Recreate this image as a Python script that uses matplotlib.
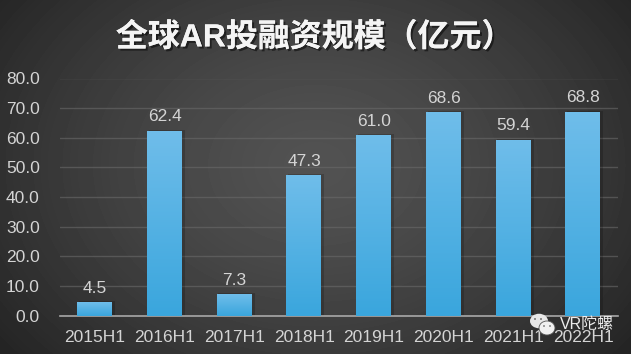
import numpy as np
import matplotlib
matplotlib.use('Agg')
import matplotlib.pyplot as plt
import matplotlib.patheffects as pe
from matplotlib.patches import Ellipse, Circle, Rectangle

plt.rcParams['font.family'] = ['Liberation Sans', 'Noto Sans CJK SC', 'DejaVu Sans']

categories = ['2015H1', '2016H1', '2017H1', '2018H1', '2019H1', '2020H1', '2021H1', '2022H1']
values = [4.5, 62.4, 7.3, 47.3, 61.0, 68.6, 59.4, 68.8]
yticks = [0, 10, 20, 30, 40, 50, 60, 70, 80]
title = '全球AR投融资规模（亿元）'
W, H = 631, 354

fig = plt.figure(figsize=(W / 100, H / 100), dpi=100)

# background, lighter in the middle
bg = fig.add_axes([0, 0, 1, 1], zorder=0)
yy, xx = np.mgrid[0:H, 0:W]
dist = np.sqrt(((xx - 315) / 400) ** 2 + ((yy - 165) / 300) ** 2)
shade = np.clip(82 - 46 * dist ** 1.4, 36, 82) / 255
bg.imshow(shade, cmap='gray', vmin=0, vmax=1, extent=(0, W, H, 0), aspect='auto')
bg.set_xlim(0, W)
bg.set_ylim(H, 0)
bg.axis('off')

ax = fig.add_axes([60 / W, 1 - 315.5 / H, 558 / W, 237 / H], zorder=1)
ax.patch.set_alpha(0)
ax.set_xlim(-0.5, 7.5)
ax.set_ylim(0, 80)
ax.set_yticks(yticks)
ax.set_yticklabels(['%.1f' % t for t in yticks])
ax.set_xticks(range(len(categories)))
ax.set_xticklabels(categories)
ax.tick_params(length=0, labelsize=12.5, labelcolor='#d4d4d4')
ax.tick_params(axis='y', pad=14.5)
ax.tick_params(axis='x', pad=10.5)
ax.grid(axis='y', color='#6a6a6a', linewidth=1, alpha=0.6)
ax.set_axisbelow(True)
for name in ['top', 'left', 'right']:
    ax.spines[name].set_visible(False)
ax.spines['bottom'].set_color('#a8a8a8')
ax.spines['bottom'].set_linewidth(1.2)

# bars with vertical gradient and a soft shadow
grad = np.linspace(0, 1, 64).reshape(-1, 1)
top_col = np.array([0x6f, 0xbd, 0xea]) / 255
bot_col = np.array([0x3a, 0xa6, 0xdd]) / 255
rgb = top_col[None, None, :] * (1 - grad[:, :, None]) + bot_col[None, None, :] * grad[:, :, None]
barw = 0.5
for i, v in enumerate(values):
    ax.add_patch(Rectangle((i - barw / 2 + 0.02, 0), barw + 0.02, v + 0.3, color='black',
                           alpha=0.18, linewidth=0, zorder=2))
    ax.imshow(rgb, extent=(i - barw / 2 - 0.005, i + barw / 2 - 0.005, 0, v), aspect='auto', zorder=3,
              interpolation='bilinear')
    ax.text(i, v + 2.1, '%.1f' % v, ha='center', va='bottom', fontsize=12.5,
            color='#d4d4d4', zorder=4)
ax.set_xlim(-0.5, 7.5)
ax.set_ylim(0, 80)

fig.text(315 / W, 1 - 38 / H, title, ha='center', va='center', fontsize=23,
         fontweight='bold', color='#f4f4f4', family=['Liberation Sans', 'Noto Sans CJK SC'],
         path_effects=[pe.withSimplePatchShadow(offset=(1.5, -1.5), shadow_rgbFace='black', alpha=0.5),
                       pe.Normal()], zorder=5)

# watermark, drawn over everything
wm = fig.add_axes([0, 0, 1, 1], zorder=3)
wm.patch.set_alpha(0)
wm.set_xlim(0, W)
wm.set_ylim(H, 0)
wm.axis('off')
wm.add_patch(Ellipse((539, 321), 18, 14.5, color='#e8e8e8', linewidth=0))
wm.add_patch(Ellipse((547, 328), 16, 14, fc='#f0f0f0', ec='#555555', linewidth=0.6))
for px, py, c in [(535, 319, '#777777'), (541, 319, '#777777'), (544, 326, '#888888'), (550, 326, '#888888')]:
    wm.add_patch(Circle((px, py), 1, color=c, linewidth=0))
wm.text(560, 324.5, 'VR陀螺', ha='left', va='center', fontsize=11.5, color='#ececec',
        family=['Liberation Sans', 'Noto Sans CJK SC'])

fig.savefig('out.png', dpi=100)
